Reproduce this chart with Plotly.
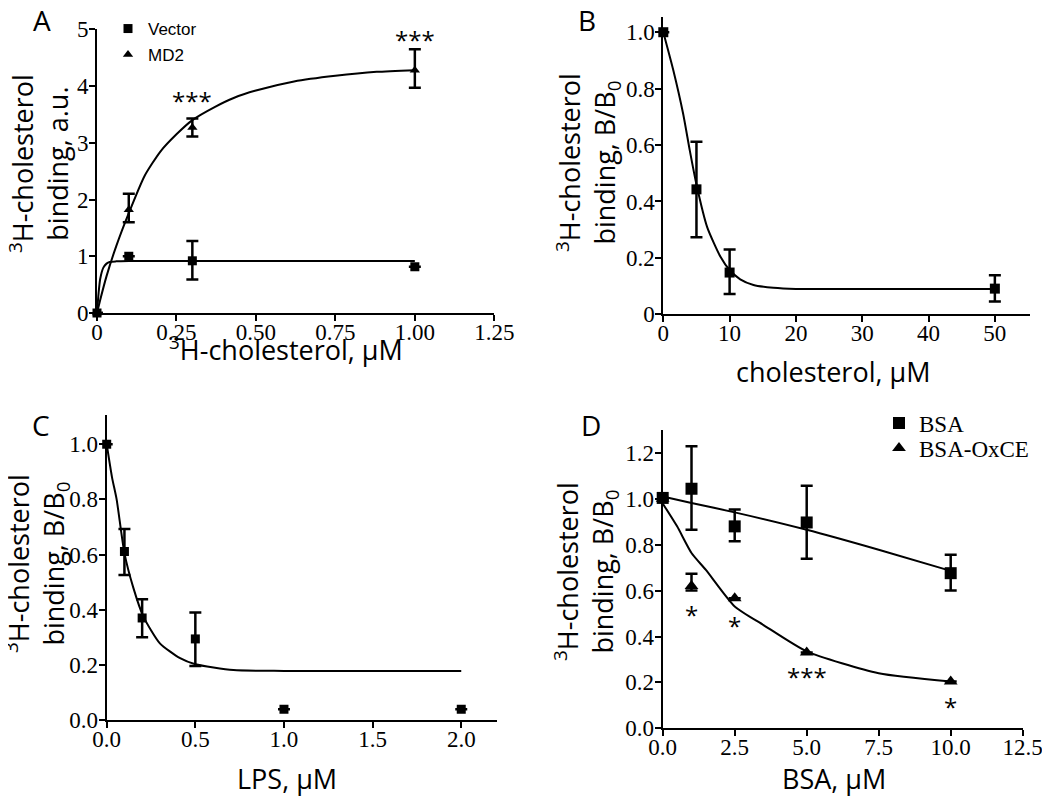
import plotly.graph_objects as go

# ---- Panel A: 3H-cholesterol binding (Vector vs MD2)
a_x = [0, 0.1, 0.3, 1.0]
a_vector = [0, 1.0, 0.92, 0.815]
a_vector_hi = [0, 0, 0.35, 0]
a_vector_lo = [0, 0, 0.33, 0]
a_md2 = [0, 1.82, 3.27, 4.28]
a_md2_hi = [0, 0.28, 0.16, 0.37]
a_md2_lo = [0, 0.22, 0.16, 0.31]
a_vec_fit_x = [0, 0.005, 0.01, 0.02, 0.03, 0.04, 0.06, 0.1, 0.3, 1.0]
a_vec_fit_y = [0, 0.35, 0.6, 0.8, 0.87, 0.9, 0.91, 0.915, 0.915, 0.915]
a_md2_fit_x = [0, 0.01, 0.03, 0.06, 0.1, 0.15, 0.2, 0.25, 0.3, 0.37, 0.43, 0.5, 0.62, 0.75, 0.88, 1.0]
a_md2_fit_y = [0, 0.23, 0.65, 1.17, 1.76, 2.42, 2.85, 3.15, 3.4, 3.63, 3.79, 3.92, 4.08, 4.18, 4.25, 4.28]
a_stars_x = [0.3, 1.0]
a_stars_y = [3.79, 4.87]

# ---- Panel B: unlabelled cholesterol competition
b_x = [0, 5, 10, 50]
b_y = [1.0, 0.443, 0.148, 0.091]
b_hi = [0, 0.169, 0.082, 0.047]
b_lo = [0, 0.17, 0.076, 0.046]
b_fit_x = [0, 1.5, 3, 4, 5, 6.6, 8.6, 10, 11.6, 13.6, 16.6, 20, 30, 50]
b_fit_y = [1.0, 0.866, 0.71, 0.58, 0.46, 0.31, 0.205, 0.157, 0.124, 0.104, 0.094, 0.09, 0.09, 0.09]

# ---- Panel C: LPS competition
c_x = [0, 0.1, 0.2, 0.5, 1.0, 2.0]
c_y = [1.0, 0.611, 0.37, 0.294, 0.039, 0.039]
c_hi = [0, 0.082, 0.068, 0.096, 0, 0]
c_lo = [0, 0.085, 0.07, 0.098, 0, 0]
c_fit_x = [0, 0.03, 0.056, 0.1, 0.15, 0.207, 0.3, 0.414, 0.5, 0.715, 1.0, 2.0]
c_fit_y = [1.0, 0.88, 0.8, 0.605, 0.48, 0.375, 0.278, 0.224, 0.202, 0.181, 0.178, 0.178]

# ---- Panel D: BSA vs BSA-OxCE
d_x = [0, 1, 2.5, 5, 10]
d_bsa = [1.004, 1.044, 0.88, 0.897, 0.676]
d_bsa_hi = [0, 0.185, 0.073, 0.16, 0.08]
d_bsa_lo = [0, 0.179, 0.065, 0.158, 0.076]
d_ox = [1.0, 0.62, 0.567, 0.33, 0.204]
d_ox_hi = [0, 0.053, 0, 0, 0]
d_ox_lo = [0, 0.02, 0, 0, 0]
d_bsa_fit_x = [0, 1, 2.5, 5, 7.5, 10]
d_bsa_fit_y = [1.01, 0.982, 0.941, 0.865, 0.778, 0.686]
d_ox_fit_x = [0, 0.5, 1, 1.5, 2.5, 3.5, 5, 7.5, 10]
d_ox_fit_y = [0.98, 0.88, 0.764, 0.69, 0.531, 0.45, 0.335, 0.24, 0.204]
d_stars_x = [1, 2.5, 5, 10]
d_stars_y = [0.51, 0.46, 0.24, 0.11]
d_stars_txt = ['*', '*', '***', '*']

W, H = 1050, 802
OFF = 8  # page body margin around the plot div
SERIF = 'Liberation Serif'
SANS = 'Open Sans'


def px_x(p):
    return (p - OFF) / W


def px_y(p):
    return 1 - (p - OFF) / H


fig = go.Figure()


def err(hi, lo):
    return dict(type='data', array=hi, arrayminus=lo, color='black', thickness=2.5, width=6)


def curve(x, y, ax):
    fig.add_trace(go.Scatter(x=x, y=y, mode='lines', line=dict(color='black', width=2, shape='spline', smoothing=0.6),
                             xaxis='x' + ax, yaxis='y' + ax, showlegend=False, cliponaxis=False))


def points(x, y, hi, lo, ax, symbol, size):
    fig.add_trace(go.Scatter(x=x, y=y, mode='markers', marker=dict(symbol=symbol, size=size, color='black'),
                             error_y=err(hi, lo), xaxis='x' + ax, yaxis='y' + ax,
                             showlegend=False, cliponaxis=False))


def legend_entry(name, symbol, size, legend):
    # marker-only trace used just for the legend swatch
    fig.add_trace(go.Scatter(x=[None], y=[None], mode='markers', name=name, legend=legend,
                             marker=dict(symbol=symbol, size=size, color='black'), showlegend=True))


# A
curve(a_vec_fit_x, a_vec_fit_y, '')
curve(a_md2_fit_x, a_md2_fit_y, '')
points(a_x, a_vector, a_vector_hi, a_vector_lo, '', 'square', 9)
points(a_x, a_md2, a_md2_hi, a_md2_lo, '', 'triangle-up', 9)
legend_entry('Vector', 'square', 9, 'legend')
legend_entry('MD2', 'triangle-up', 9, 'legend2')
# B
curve(b_fit_x, b_fit_y, '2')
points(b_x, b_y, b_hi, b_lo, '2', 'square', 10)
# C
curve(c_fit_x, c_fit_y, '3')
points(c_x, c_y, c_hi, c_lo, '3', 'square', 9)
# D
curve(d_bsa_fit_x, d_bsa_fit_y, '4')
curve(d_ox_fit_x, d_ox_fit_y, '4')
points(d_x, d_bsa, d_bsa_hi, d_bsa_lo, '4', 'square', 12)
points(d_x, d_ox, d_ox_hi, d_ox_lo, '4', 'triangle-up', 12)
legend_entry('BSA', 'square', 12, 'legend3')
legend_entry('BSA-OxCE', 'triangle-up', 12, 'legend4')


def axis(dom, rng, tickvals, ticktext, anchor, standoff):
    return dict(domain=dom, range=rng, tickvals=tickvals, ticktext=ticktext, anchor=anchor,
                showline=True, linecolor='black', linewidth=2, ticks='outside', ticklen=6,
                tickwidth=2, tickcolor='black', showgrid=False, zeroline=False, automargin=False,
                ticklabelstandoff=standoff,
                tickfont=dict(family=SERIF, size=23, color='black'), fixedrange=True)


layout = dict(width=W, height=H, margin=dict(l=0, r=0, t=0, b=0, autoexpand=False),
              plot_bgcolor='white', paper_bgcolor='white')

XS, YS = -9, -4
# A axes
layout['xaxis'] = axis([px_x(97), px_x(494.3)], [0, 1.25], [0, 0.25, 0.5, 0.75, 1.0, 1.25],
                       ['0', '0.25', '0.50', '0.75', '1.00', '1.25'], 'y', XS)
layout['yaxis'] = axis([px_y(313), px_y(29.3)], [0, 5], [0, 1, 2, 3, 4, 5],
                       ['0', '1', '2', '3', '4', '5'], 'x', YS)
# B axes
layout['xaxis2'] = axis([px_x(663.3), px_x(1030)], [0, 55.3], [0, 10, 20, 30, 40, 50],
                        ['0', '10', '20', '30', '40', '50'], 'y2', XS)
layout['yaxis2'] = axis([px_y(314.3), px_y(16.7)], [0, 1.055], [0, 0.2, 0.4, 0.6, 0.8, 1.0],
                        ['0', '0.2', '0.4', '0.6', '0.8', '1.0'], 'x2', YS)
# C axes
layout['xaxis3'] = axis([px_x(106.7), px_x(496.7)], [0, 2.2], [0, 0.5, 1.0, 1.5, 2.0],
                        ['0.0', '0.5', '1.0', '1.5', '2.0'], 'y3', XS)
layout['yaxis3'] = axis([px_y(720), px_y(415)], [0, 1.106], [0, 0.2, 0.4, 0.6, 0.8, 1.0],
                        ['0.0', '0.2', '0.4', '0.6', '0.8', '1.0'], 'x3', YS)
# D axes
layout['xaxis4'] = axis([px_x(662.7), px_x(1022.7)], [0, 12.5], [0, 2.5, 5, 7.5, 10, 12.5],
                        ['0.0', '2.5', '5.0', '7.5', '10.0', '12.5'], 'y4', XS)
layout['yaxis4'] = axis([px_y(728.3), px_y(430)], [0, 1.3], [0, 0.2, 0.4, 0.6, 0.8, 1.0, 1.2],
                        ['0.0', '0.2', '0.4', '0.6', '0.8', '1.0', '1.2'], 'x4', YS)


def legend_box(x, y, font):
    return dict(x=px_x(x), y=px_y(y), xanchor='left', yanchor='middle', font=font,
                bgcolor='rgba(0,0,0,0)', tracegroupgap=0, itemwidth=30)


leg_a = dict(family='Liberation Sans', size=17, color='black')
leg_d = dict(family=SERIF, size=23, color='black')
layout['legend'] = legend_box(108, 29, leg_a)
layout['legend2'] = legend_box(108, 55, leg_a)
layout['legend3'] = legend_box(879, 423, leg_d)
layout['legend4'] = legend_box(879, 448, leg_d)
fig.update_layout(**layout)

ann = []


def label(text, x, y, size, family=SANS, angle=0):
    ann.append(dict(text=text, x=px_x(x), y=px_y(y), xref='paper', yref='paper', showarrow=False,
                    xanchor='center', yanchor='middle', textangle=angle,
                    font=dict(family=family, size=size, color='black')))


# panel letters
for letter, x, y in [('A', 42, 20), ('B', 587, 20), ('C', 41, 425), ('D', 591, 425)]:
    label(letter, x, y, 28)
# x titles
for txt, x, y in [('<sup>3</sup>H-cholesterol, \u03bcM', 286, 348), ('cholesterol, \u03bcM', 833, 372),
                  ('LPS, \u03bcM', 287, 778), ('BSA, \u03bcM', 834, 778)]:
    label(txt, x, y, 27)
# y titles
for txt, x, y in [('<sup>3</sup>H-cholesterol<br>binding, a.u.', 39, 164),
                  ('<sup>3</sup>H-cholesterol<br>binding, B/B<sub>0</sub>', 588, 163),
                  ('<sup>3</sup>H-cholesterol<br>binding, B/B<sub>0</sub>', 37, 564),
                  ('<sup>3</sup>H-cholesterol<br>binding, B/B<sub>0</sub>', 586, 572)]:
    label(txt, x, y, 27, angle=-90)
# significance stars
for x, y in zip(a_stars_x, a_stars_y):
    ann.append(dict(text='***', x=x, y=y, xref='x', yref='y', showarrow=False, yshift=-3,
                    font=dict(family=SANS, size=24, color='black')))
for x, y, t in zip(d_stars_x, d_stars_y, d_stars_txt):
    ann.append(dict(text=t, x=x, y=y, xref='x4', yref='y4', showarrow=False, yshift=-3,
                    font=dict(family=SANS, size=24, color='black')))
fig.update_layout(annotations=ann)

fig.write_html("out.html")
